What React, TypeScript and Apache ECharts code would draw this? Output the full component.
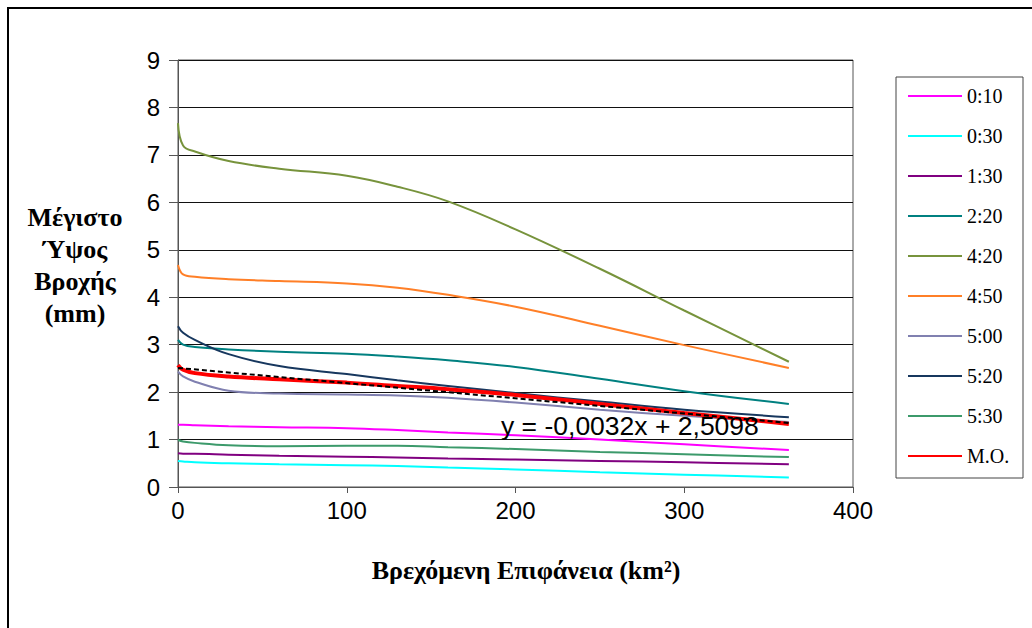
import React, { useEffect, useRef } from "react";
import * as echarts from "echarts";

// Βρεχόμενη επιφάνεια (km²)
const areas = [0, 3, 10, 30, 60, 100, 130, 160, 200, 250, 300, 362];

const seriesNames = ["0:10", "0:30", "1:30", "2:20", "4:20", "4:50", "5:00", "5:20", "5:30", "M.O."];

const d0010 = [1.31, 1.31, 1.3, 1.28, 1.26, 1.24, 1.2, 1.15, 1.09, 1.0, 0.9, 0.78];
const d0030 = [0.55, 0.54, 0.52, 0.5, 0.48, 0.46, 0.44, 0.41, 0.37, 0.31, 0.26, 0.2];
const d0130 = [0.71, 0.7, 0.7, 0.68, 0.66, 0.64, 0.62, 0.6, 0.58, 0.55, 0.52, 0.48];
const d0220 = [3.1, 3.0, 2.95, 2.9, 2.85, 2.81, 2.75, 2.67, 2.53, 2.28, 2.02, 1.75];
const d0420 = [7.67, 7.2, 7.07, 6.87, 6.71, 6.56, 6.33, 6.02, 5.43, 4.6, 3.72, 2.64];
const d0450 = [4.68, 4.48, 4.43, 4.38, 4.34, 4.29, 4.2, 4.05, 3.8, 3.4, 2.99, 2.51];
const d0500 = [2.43, 2.33, 2.22, 2.03, 1.97, 1.95, 1.93, 1.88, 1.78, 1.63, 1.5, 1.37];
const d0520 = [3.39, 3.25, 3.1, 2.8, 2.55, 2.38, 2.25, 2.13, 1.98, 1.8, 1.63, 1.47];
const d0530 = [0.99, 0.96, 0.93, 0.88, 0.86, 0.87, 0.87, 0.84, 0.8, 0.74, 0.69, 0.63];
const dMO = [2.57, 2.47, 2.4, 2.33, 2.27, 2.2, 2.13, 2.06, 1.94, 1.75, 1.56, 1.33];

const seriesData = [d0010, d0030, d0130, d0220, d0420, d0450, d0500, d0520, d0530, dMO];
const seriesColors = ["#FF00FF", "#00FFFF", "#800080", "#008080", "#77933C", "#FF7F27", "#8080B0", "#17375E", "#3C9A6B", "#FF0000"];
const seriesWidths = [2, 2, 2, 2, 2, 2, 2, 2, 2, 4];

// Γραμμή τάσης
const trendX = [0, 362];
const trendY = [2.51, 1.35];
const trendLabel = "y = -0,0032x + 2,5098";

const xTicks = { min: 0, max: 400, interval: 100 };
const yTicks = { min: 0, max: 9, interval: 1 };

export default function App() {
  const ref = useRef<HTMLDivElement>(null);

  useEffect(() => {
    if (!ref.current) return;
    const chart = echarts.init(ref.current, undefined, { renderer: "svg" });

    const lines: any[] = seriesNames.map((name, i) => ({
      name,
      type: "line",
      data: areas.map((x, j) => [x, seriesData[i][j]]),
      showSymbol: false,
      symbol: "none",
      smooth: 0.4,
      lineStyle: { color: seriesColors[i], width: seriesWidths[i] },
      itemStyle: { color: seriesColors[i] },
      z: i === 9 ? 4 : 3,
    }));

    lines.push({
      name: "trend",
      type: "line",
      data: trendX.map((x, j) => [x, trendY[j]]),
      showSymbol: false,
      symbol: "none",
      lineStyle: { color: "#000", width: 2, type: [5, 3] },
      z: 5,
    });

    const option: any = {
      animation: false,
      backgroundColor: "#fff",
      grid: { left: 178, top: 60, width: 675, height: 427, containLabel: false },
      xAxis: {
        type: "value",
        min: xTicks.min,
        max: xTicks.max,
        interval: xTicks.interval,
        axisLine: { show: true, lineStyle: { color: "#555", width: 1 } },
        axisTick: { show: true, length: 6, lineStyle: { color: "#555" } },
        axisLabel: { color: "#000", fontFamily: "Liberation Sans, Arial", fontSize: 24, margin: 11 },
        splitLine: { show: false },
      },
      yAxis: {
        type: "value",
        min: yTicks.min,
        max: yTicks.max,
        interval: yTicks.interval,
        axisLine: { show: true, lineStyle: { color: "#555", width: 1 } },
        axisTick: { show: true, length: 9, lineStyle: { color: "#555" } },
        axisLabel: { color: "#000", fontFamily: "Liberation Sans, Arial", fontSize: 24, margin: 18 },
        splitLine: { show: true, lineStyle: { color: "#111", width: 1 } },
      },
      legend: {
        show: true,
        orient: "vertical",
        left: 907,
        top: 86,
        padding: 0,
        itemWidth: 54,
        itemHeight: 14,
        itemGap: 20,
        data: seriesNames,
        itemStyle: { color: "transparent", borderWidth: 0, opacity: 0 },
        textStyle: { color: "#000", fontFamily: "Liberation Serif, Times New Roman", fontSize: 20 },
      },
      graphic: [
        {
          type: "rect",
          shape: { x: 8, y: 8, width: 1100, height: 700 },
          style: { fill: "none", stroke: "#000", lineWidth: 2 },
          silent: true,
        },
        {
          type: "rect",
          shape: { x: 178, y: 60, width: 675, height: 427 },
          style: { fill: "none", stroke: "#555", lineWidth: 1 },
          silent: true,
        },
        {
          type: "rect",
          shape: { x: 896, y: 77, width: 127, height: 401 },
          style: { fill: "none", stroke: "#444", lineWidth: 1 },
          silent: true,
        },
        {
          type: "text",
          x: 75,
          y: 265,
          style: {
            text: "Μέγιστο\nΎψος\nΒροχής\n(mm)",
            fontFamily: "Liberation Serif, Times New Roman",
            fontWeight: "bold",
            fontSize: 26,
            lineHeight: 32,
            fill: "#000",
            align: "center",
            verticalAlign: "middle",
          },
          silent: true,
        },
        {
          type: "text",
          x: 526,
          y: 570,
          style: {
            text: "Βρεχόμενη Επιφάνεια (km²)",
            fontFamily: "Liberation Serif, Times New Roman",
            fontWeight: "bold",
            fontSize: 26,
            fill: "#000",
            align: "center",
            verticalAlign: "middle",
          },
          silent: true,
        },
        {
          type: "text",
          x: 501,
          y: 426,
          z: 10,
          style: {
            text: trendLabel,
            fontFamily: "Liberation Sans, Arial",
            fontSize: 26.5,
            fill: "#000",
            align: "left",
            verticalAlign: "middle",
          },
          silent: true,
        },
      ],
      series: lines,
    };

    chart.setOption(option);
    return () => chart.dispose();
  }, []);

  return (
    <div
      ref={ref}
      style={{ position: "fixed", left: 0, top: 0, width: 1032, height: 628, background: "#fff" }}
    />
  );
}
